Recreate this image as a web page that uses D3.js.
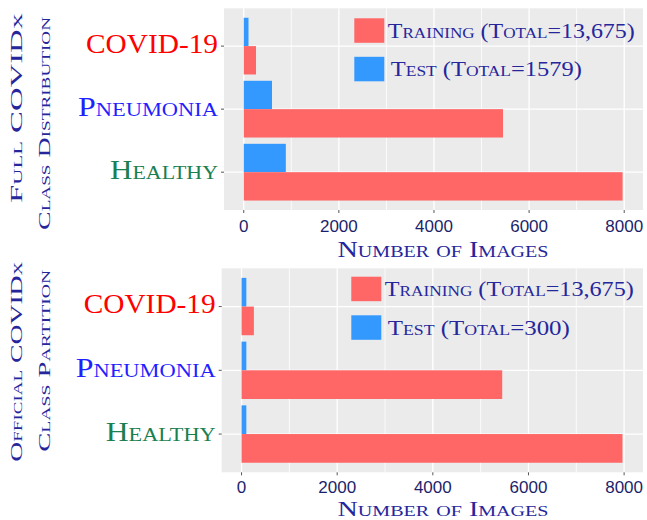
<!DOCTYPE html>
<html>
<head>
<meta charset="utf-8">
<script src="https://cdn.jsdelivr.net/npm/d3@7"></script>
<style>
  html, body { margin: 0; padding: 0; background: #ffffff; }
  svg { display: block; }
</style>
</head>
<body>
<svg id="chart" width="647" height="520"></svg>
<script>
// ---------------- data ----------------
const categories = ["COVID-19", "Pneumonia", "Healthy"];
const categoryColors = ["#FF0000", "#1f1fff", "#1a8050"];
const series = ["Test", "Training"];

const fullTraining = [258, 5451, 7966];
const fullTest = [100, 594, 885];
const officialTraining = [258, 5451, 7966];
const officialTest = [100, 100, 100];

const xTicks = [0, 2000, 4000, 6000, 8000];
const xMinorTicks = [1000, 3000, 5000, 7000];

const fullLegend = ["Training (Total=13,675)", "Test (Total=1579)"];
const officialLegend = ["Training (Total=13,675)", "Test (Total=300)"];
const fullTitle = ["Full COVIDx", "Class Distribution"];
const officialTitle = ["Official COVIDx", "Class Partition"];
const xTitle = "Number of Images";

// ---------------- style ----------------
const trainColor = "#FF6666";
const testColor = "#3399FF";
const panelBg = "#EBEBEB";
const titleColor = "#26269c";
const tickLabelColor = "#1c1f6b";
const SERIF = "'Liberation Serif', 'Times New Roman', 'DejaVu Serif', serif";
const SANS = "'Liberation Sans', Arial, sans-serif";

const svg = d3.select("#chart");

function serifText(sel) {
  return sel.style("font-family", SERIF).style("font-variant", "small-caps");
}

function drawPanel(cfg) {
  const g = svg.append("g");
  const x = d3.scaleLinear().domain([-415, 8395]).range([cfg.left, cfg.right]);
  const y = d3.scaleBand().domain(categories).range([cfg.top, cfg.bottom])
    .paddingInner(0.1).paddingOuter(0.15);
  const ySub = d3.scaleBand().domain(series).range([0, y.bandwidth()]);
  const center = c => y(c) + y.bandwidth() / 2;

  g.append("rect").attr("x", cfg.left).attr("y", cfg.top)
    .attr("width", cfg.right - cfg.left).attr("height", cfg.bottom - cfg.top)
    .attr("fill", panelBg);

  g.selectAll(".vminor").data(xMinorTicks).join("line")
    .attr("x1", d => x(d)).attr("x2", d => x(d))
    .attr("y1", cfg.top).attr("y2", cfg.bottom)
    .attr("stroke", "#fff").attr("stroke-width", 0.8);
  g.selectAll(".vmajor").data(xTicks).join("line")
    .attr("x1", d => x(d)).attr("x2", d => x(d))
    .attr("y1", cfg.top).attr("y2", cfg.bottom)
    .attr("stroke", "#fff").attr("stroke-width", 1.3);
  g.selectAll(".hmajor").data(categories).join("line")
    .attr("x1", cfg.left).attr("x2", cfg.right)
    .attr("y1", d => center(d)).attr("y2", d => center(d))
    .attr("stroke", "#fff").attr("stroke-width", 1.3);

  const rows = categories.map((c, i) => ({ c, test: cfg.test[i], train: cfg.train[i] }));
  g.selectAll(".testbar").data(rows).join("rect")
    .attr("x", x(0)).attr("y", d => y(d.c) + ySub("Test"))
    .attr("width", d => x(d.test) - x(0)).attr("height", ySub.bandwidth())
    .attr("fill", testColor);
  g.selectAll(".trainbar").data(rows).join("rect")
    .attr("x", x(0)).attr("y", d => y(d.c) + ySub("Training"))
    .attr("width", d => x(d.train) - x(0)).attr("height", ySub.bandwidth())
    .attr("fill", trainColor);

  g.selectAll(".ytick").data(categories).join("line")
    .attr("x1", cfg.left - 3).attr("x2", cfg.left)
    .attr("y1", d => center(d)).attr("y2", d => center(d))
    .attr("stroke", "#555").attr("stroke-width", 1);
  g.selectAll(".xtick").data(xTicks).join("line")
    .attr("x1", d => x(d)).attr("x2", d => x(d))
    .attr("y1", cfg.bottom).attr("y2", cfg.bottom + 3)
    .attr("stroke", "#555").attr("stroke-width", 1);

  g.selectAll(".xlab").data(xTicks).join("text")
    .style("font-family", SANS)
    .attr("x", d => x(d)).attr("y", cfg.bottom + cfg.tickDy)
    .attr("text-anchor", "middle")
    .attr("font-size", 17).attr("fill", tickLabelColor)
    .text(d => d);

  serifText(g.selectAll(".ylab").data(categories).join("text"))
    .attr("x", cfg.left - 6).attr("y", d => center(d) + 6.5)
    .attr("text-anchor", "end")
    .attr("font-size", 27)
    .attr("fill", (d, i) => categoryColors[i])
    .attr("textLength", (d, i) => cfg.catWidths[i])
    .attr("lengthAdjust", "spacingAndGlyphs")
    .text(d => d);

  serifText(g.append("text"))
    .attr("x", 443).attr("y", cfg.bottom + cfg.xTitleDy)
    .attr("text-anchor", "middle").attr("font-size", cfg.xTitleSize)
    .attr("fill", titleColor)
    .attr("textLength", 211).attr("lengthAdjust", "spacingAndGlyphs")
    .text(xTitle);

  cfg.title.forEach((t, i) => {
    serifText(g.append("text"))
      .attr("transform", `translate(${cfg.titleX[i]},${cfg.titleY[i]}) rotate(-90)`)
      .attr("text-anchor", "middle").attr("font-size", 17.5)
      .attr("fill", titleColor)
      .attr("textLength", cfg.titleWidths[i]).attr("lengthAdjust", "spacingAndGlyphs")
      .text(t);
  });

  const legColors = [trainColor, testColor];
  cfg.legend.forEach((t, i) => {
    g.append("rect")
      .attr("x", cfg.legX).attr("y", cfg.legY[i])
      .attr("width", 30).attr("height", 24.5)
      .attr("fill", legColors[i]);
    serifText(g.append("text"))
      .attr("x", cfg.legX + 33.5 + (i === 1 ? 3 : 0)).attr("y", cfg.legY[i] + 19.5)
      .attr("font-size", 21).attr("fill", titleColor)
      .attr("textLength", cfg.legWidths[i]).attr("lengthAdjust", "spacingAndGlyphs")
      .text(t);
  });
}

drawPanel({
  left: 224, right: 643, top: 8.3, bottom: 210,
  train: fullTraining, test: fullTest,
  legend: fullLegend, title: fullTitle,
  legX: 354.3, legY: [18.3, 56.8], legWidths: [247, 191],
  catWidths: [132, 140, 108], xTitleDy: 47, xTitleSize: 22.5, tickDy: 22,
  titleX: [21.5, 50], titleY: [108, 123.5], titleWidths: [190, 213]
});

drawPanel({
  left: 221.7, right: 643, top: 268.3, bottom: 472.3,
  train: officialTraining, test: officialTest,
  legend: officialLegend, title: officialTitle,
  legX: 351.3, legY: [276.7, 315.3], legWidths: [249, 182],
  catWidths: [132, 140, 110], xTitleDy: 43.5, xTitleSize: 21, tickDy: 20.5,
  titleX: [22, 50], titleY: [361.7, 360.8], titleWidths: [200, 182]
});
</script>
</body>
</html>
